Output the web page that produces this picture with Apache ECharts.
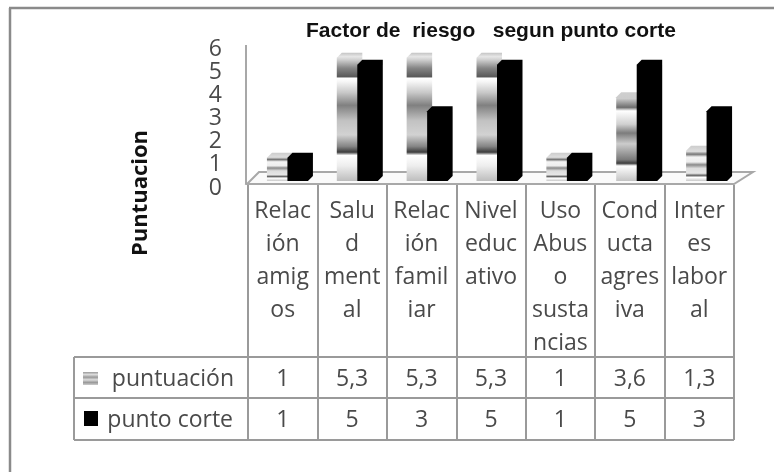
<!DOCTYPE html>
<html><head><meta charset="utf-8">
<style>html,body{margin:0;padding:0;background:#fff}#c{width:774px;height:472px}</style>
<script src="https://cdn.jsdelivr.net/npm/echarts@6/dist/echarts.min.js"></script>
</head><body><div id="c"></div>
<script>
const titleText = 'Factor de  riesgo   segun punto corte';
const yName = 'Puntuacion';
const categories = ['Relac\nión\namig\nos','Salu\nd\nment\nal','Relac\nión\nfamil\niar','Nivel\neduc\nativo','Uso\nAbus\no\nsusta\nncias','Cond\nucta\nagres\niva','Inter\nes\nlabor\nal'];
const seriesNames = ['puntuación','punto corte'];
const puntuacion = [1,5.3,5.3,5.3,1,3.6,1.3];
const puntoCorte = [1,5,3,5,1,5,3];
const yTicks = [0,1,2,3,4,5,6];

const FONT = 'Open Sans';
const FS = 23;
const TXT = '#4a4a4a';
const LINE = '#9a9a9a';

const tallStops = [[0,'#c4c4c4'],[.03,'#e6e6e6'],[.055,'#cfcfcf'],[.12,'#858585'],[.185,'#5a5a5a'],[.2,'#ffffff'],[.225,'#f6f6f6'],[.31,'#c8c8c8'],[.41,'#808080'],[.53,'#c2c2c2'],[.64,'#d2d2d2'],[.73,'#858585'],[.775,'#3c3c3c'],[.8,'#ffffff'],[.88,'#eeeeee'],[1,'#bdbdbd']];
const midStops = [[0,'#cfcfcf'],[.07,'#cccccc'],[.17,'#6e6e6e'],[.21,'#ffffff'],[.36,'#d0d0d0'],[.46,'#7c7c7c'],[.58,'#cccccc'],[.76,'#7a7a7a'],[.8,'#3c3c3c'],[.83,'#ffffff'],[1,'#c4c4c4']];
const shortStops = [[0,'#cccccc'],[.16,'#dedede'],[.24,'#777777'],[.32,'#f4f4f4'],[.46,'#eeeeee'],[.54,'#8a8a8a'],[.64,'#dddddd'],[.78,'#e6e6e6'],[.84,'#666666'],[.9,'#ffffff'],[1,'#c8c8c8']];
function lightFill(v){
  const s = v > 5 ? tallStops : v > 3 ? midStops : shortStops;
  return new echarts.graphic.LinearGradient(0,0,0,1,s.map(p=>({offset:p[0],color:p[1]})));
}
function makeBar(seriesIdx){
  return function(params, api){
    const i = api.value(0), v = api.value(1);
    const p = api.coord([i,v]), z = api.coord([i,0]);
    const w = 25.5, c = 5;
    const x = p[0] + (seriesIdx === 0 ? -10.25 : 10.25) - w/2;
    const top = p[1], bot = z[1] + c;
    return {type:'polygon',
      shape:{points:[[x+c,top],[x+w,top],[x+w,bot-c],[x+w-c,bot],[x,bot],[x,top+c]]},
      style:{fill: seriesIdx === 0 ? lightFill(v) : '#000'}};
  };
}

const L = 248, R = 734, rows = [357,398,440], colW = (R-L)/categories.length;
const g = [];
const line = (x1,y1,x2,y2,col,w,z) => g.push({type:'line',silent:true,z:z||1,shape:{x1,y1,x2,y2},style:{stroke:col||LINE,lineWidth:w||2}});
line(9,8,774,8,'#8a8a8a',2.5); line(10,8,10,472,'#8a8a8a',2.5);
line(246,45,246,184,'#a8a8a8',2);
g.push({type:'polygon',silent:true,z:1,shape:{points:[[247,184],[734,184],[753,172],[259,172]]},style:{fill:'#fafafa',stroke:'#a8a8a8',lineWidth:2}});
rows.forEach(y => line(74,y,R,y));
line(74,rows[0],74,rows[2]);
const rowY = [379,420];
[puntuacion,puntoCorte].forEach((arr,r)=>{
  arr.forEach((v,i)=>g.push({type:'text',silent:true,z:3,x:L+colW*(i+.5),y:rowY[r],style:{text:String(v).replace('.',','),align:'center',verticalAlign:'middle',font:FS+'px '+FONT,fill:TXT}}));
});
g.push({type:'text',silent:true,z:3,x:234,y:rowY[0],style:{text:seriesNames[0],align:'right',verticalAlign:'middle',font:FS+'px '+FONT,fill:TXT}});
g.push({type:'text',silent:true,z:3,x:233,y:rowY[1],style:{text:seriesNames[1],align:'right',verticalAlign:'middle',font:FS+'px '+FONT,fill:TXT}});
g.push({type:'rect',silent:true,z:3,shape:{x:83,y:372,width:15,height:13},style:{fill:new echarts.graphic.LinearGradient(0,0,0,1,[{offset:0,color:'#999'},{offset:.2,color:'#ddd'},{offset:.4,color:'#999'},{offset:.6,color:'#ddd'},{offset:.8,color:'#999'},{offset:1,color:'#ccc'}])}});
g.push({type:'rect',silent:true,z:3,shape:{x:84,y:411,width:14,height:15},style:{fill:'#000'}});
g.push({type:'text',silent:true,z:3,x:141,y:193,rotation:Math.PI/2,style:{text:yName,align:'center',verticalAlign:'middle',font:'bold 22px '+FONT,fill:'#111'}});

const chart = echarts.init(document.getElementById('c'),null,{renderer:'canvas'});
chart.setOption({
  animation:false,
  backgroundColor:'#fff',
  title:{text:titleText,left:306,top:21,padding:0,textStyle:{fontFamily:'Liberation Sans',fontWeight:'bold',fontSize:21,color:'#111'}},
  grid:[
    {left:L,width:R-L,top:49,height:139},
    {left:255,width:489,top:36.5,height:139.5}
  ],
  xAxis:[
    {type:'category',gridIndex:0,data:categories,offset:-3,
      axisLine:{show:false},
      axisTick:{show:true,length:255,lineStyle:{color:LINE,width:2}},
      axisLabel:{interval:0,margin:10,fontFamily:FONT,fontSize:FS,lineHeight:33,color:TXT,verticalAlign:'top',align:'center'},
      splitLine:{show:false}},
    {type:'category',gridIndex:1,data:categories,show:false}
  ],
  yAxis:[
    {type:'value',gridIndex:0,min:0,max:6,interval:1,data:yTicks,
      axisLine:{show:false},axisTick:{show:false},splitLine:{show:false},
      axisLabel:{margin:26,fontFamily:FONT,fontSize:FS,color:TXT}},
    {type:'value',gridIndex:1,min:0,max:6,interval:1,show:false,splitLine:{show:false}}
  ],
  series:[
    {name:seriesNames[0],type:'custom',xAxisIndex:1,yAxisIndex:1,z:4,clip:false,renderItem:makeBar(0),encode:{x:0,y:1},data:puntuacion.map((v,i)=>[i,v])},
    {name:seriesNames[1],type:'custom',xAxisIndex:1,yAxisIndex:1,z:5,clip:false,renderItem:makeBar(1),encode:{x:0,y:1},data:puntoCorte.map((v,i)=>[i,v])}
  ],
  graphic:{elements:g}
});
</script></body></html>
